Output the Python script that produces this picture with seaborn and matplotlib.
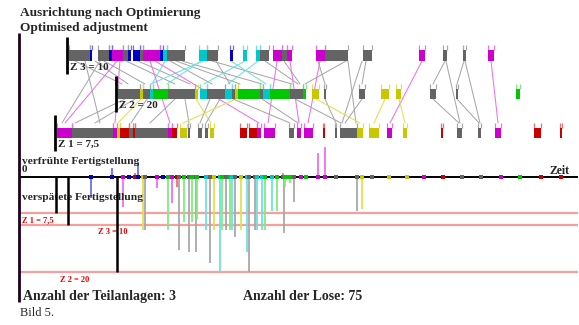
import matplotlib
matplotlib.use("Agg")
import matplotlib.pyplot as plt
import seaborn as sns
import pandas as pd

# ---- lot colours: solid for bars / markers, pale for links and deviations
SOLID = {"k": "#646464", "m": "#cc00cc", "b": "#0000c8", "c": "#00c8c8",
         "g": "#00c800", "y": "#c8c800", "r": "#c80000"}
PALE = {"k": "#a8a8a8", "m": "#ee70ee", "b": "#7070e8", "c": "#70e0e0",
        "g": "#80ec80", "y": "#e0e050", "r": "#ee7070"}

# ---- schedule on the three sub-plants: (start, end, lot colour)
Z3_SEGMENTS = [(69, 90, "k"), (90, 92, "b"), (98, 109, "k"), (109, 112, "b"),
               (112, 123, "m"), (123, 128, "k"), (128, 131, "b"), (133, 140, "b"),
               (140, 143, "k"), (143, 160, "m"), (160, 163, "b"), (163, 167, "c"),
               (167, 185, "k"), (199, 207, "c"), (207, 218, "k"), (230, 233, "b"),
               (243, 247, "c"), (256, 260, "c"), (260, 269, "k"), (273, 282, "m"),
               (282, 287, "k"), (287, 292, "m"), (316, 325, "m"), (325, 348, "k"),
               (363, 372, "k"), (419, 425, "m"), (443, 447, "k"), (463, 466, "k"),
               (488, 494, "m")]
Z2_SEGMENTS = [(118, 140, "k"), (140, 143, "y"), (143, 150, "k"), (150, 153, "c"),
               (153, 168, "g"), (168, 195, "k"), (195, 198, "y"), (200, 207, "c"),
               (207, 225, "k"), (225, 232, "c"), (232, 235, "k"), (235, 238, "y"),
               (238, 260, "g"), (260, 263, "k"), (263, 270, "c"), (270, 290, "g"),
               (290, 303, "k"), (303, 306, "g"), (312, 319, "y"), (324, 326, "k"),
               (359, 365, "k"), (381, 389, "y"), (396, 401, "y"), (430, 436, "k"),
               (456, 458, "k"), (516, 520, "g")]
Z1_SEGMENTS = [(57, 72, "m"), (72, 113, "k"), (113, 117, "m"), (117, 120, "y"),
               (120, 129, "r"), (129, 133, "k"), (133, 135, "r"), (135, 168, "k"),
               (168, 172, "m"), (172, 177, "r"), (180, 187, "y"), (188, 190, "k"),
               (198, 202, "k"), (205, 208, "k"), (210, 214, "y"), (240, 247, "r"),
               (249, 257, "r"), (257, 261, "m"), (264, 275, "m"), (289, 294, "k"),
               (297, 301, "m"), (304, 313, "m"), (323, 324.5, "r"), (335, 336.5, "k"),
               (340, 357, "k"), (357, 363, "y"), (369, 379, "y"), (387, 392, "m"),
               (403, 407, "y"), (441, 443, "r"), (457, 462, "k"), (478, 481, "k"),
               (495, 501, "m"), (534, 541, "r"), (560, 562, "r")]

# ---- routing of lots between sub-plants: (from plant, x, to plant, x, colour)
LINKS = [(3, 75, 2, 122, "k"), (3, 95, 2, 128, "k"), (3, 104, 2, 145, "k"),
         (3, 126, 2, 175, "k"), (3, 138, 2, 190, "k"), (3, 170, 2, 212, "k"),
         (3, 176, 2, 240, "k"), (3, 182, 2, 262, "k"), (3, 212, 2, 292, "k"),
         (3, 216, 2, 230, "k"), (3, 265, 2, 298, "k"), (3, 284, 2, 300, "k"),
         (3, 346, 2, 305, "k"), (3, 318, 2, 325, "k"), (3, 366, 2, 362, "k"),
         (3, 445, 2, 433, "k"), (3, 464, 2, 457, "k"),
         (3, 165, 2, 152, "c"), (3, 203, 2, 151, "c"), (3, 245, 2, 204, "c"),
         (3, 258, 2, 228, "c"), (3, 231, 2, 266, "c"), (3, 201, 2, 167, "c"),
         (3, 117, 1, 65, "m"), (3, 120, 1, 115, "m"), (3, 150, 1, 170, "m"),
         (3, 155, 1, 259, "m"), (3, 277, 1, 268, "m"), (3, 290, 1, 299, "m"),
         (3, 320, 1, 308, "m"), (3, 422, 1, 390, "m"), (3, 491, 1, 498, "m"),
         (3, 85, 1, 100, "k"), (3, 100, 1, 62, "k"), (3, 362, 1, 342, "k"),
         (3, 348, 1, 356, "k"), (3, 446, 1, 460, "k"), (3, 465, 1, 480, "k"),
         (2, 125, 1, 75, "k"), (2, 135, 1, 95, "k"), (2, 141, 1, 118, "y"),
         (2, 147, 1, 131, "k"), (2, 175, 1, 150, "k"), (2, 185, 1, 189, "k"),
         (2, 196, 1, 211, "y"), (2, 210, 1, 200, "k"), (2, 220, 1, 206, "k"),
         (2, 236, 1, 183, "y"), (2, 233, 1, 290, "k"), (2, 262, 1, 298, "k"),
         (2, 295, 1, 341, "k"), (2, 325, 1, 336, "k"), (2, 316, 1, 360, "y"),
         (2, 362, 1, 345, "k"), (2, 385, 1, 374, "y"), (2, 399, 1, 405, "y"),
         (2, 433, 1, 459, "k"), (2, 457, 1, 479, "k")]

# ---- completion of each lot: time, deviation (+ late, - early), colour
DONE_TIME = [91, 112, 123, 129, 135, 138, 143, 145, 157, 163, 168, 172, 177, 179,
             184, 189, 192, 196, 197, 206, 210, 214, 220, 222, 226, 230, 232, 235,
             241, 247, 249, 255, 257, 262, 265, 272, 277, 283, 284, 285, 286, 290,
             294, 301, 306, 318, 325, 336, 357, 362, 372, 389, 407, 424, 443, 462,
             481, 501, 520, 541, 561]
DEVIATION = [21, -9, 30, 0, -4, -15, 53, 53, 11, 0, 53, 26, 10, 73,
             45, 75, 45, 75, 42, 53, 86, 53, 95, 53, 53, 53, 53, 60,
             53, 75, 95, 53, 53, 53, 53, 34, 34, -4, 56, 10, 0, 6,
             25, 0, 0, -24, -30, 0, 34, 32, 0, 0, 0, 0, 0, 0,
             0, 0, 0, 0, 0]
DONE_COLOR = ["b", "b", "m", "b", "r", "b", "y", "k", "m", "b", "g", "m", "r", "k",
              "g", "k", "g", "k", "g", "c", "k", "y", "c", "g", "k", "g", "c", "k",
              "y", "c", "k", "k", "c", "c", "g", "c", "g", "m", "k", "g", "g", "g",
              "k", "m", "g", "m", "m", "k", "k", "y", "k", "y", "y", "m", "r", "k",
              "k", "m", "g", "r", "r"]

# ---- tolerances of the sub-plants and where each plant begins
PLANTS = [1, 2, 3]
PLANT_LABEL = {1: "Z 1 = 7,5", 2: "Z 2 = 20", 3: "Z 3 = 10"}
TOLERANCE = {1: 7.5, 2: 20.0, 3: 10.0}
PLANT_START = {1: 55, 2: 116, 3: 67}
N_PLANTS = 3
N_LOTS = 75

sns.set_theme(style="white")
plt.rcParams["font.family"] = ["Liberation Serif", "DejaVu Serif"]

fig = plt.figure(figsize=(5.79, 3.25), dpi=100)
ax = fig.add_axes([0, 0, 1, 1])

# bar rows (top, bottom) in drawing units
ROW = {3: (50, 61), 2: (89, 99), 1: (128, 138)}
TICK = 5
segments = {3: Z3_SEGMENTS, 2: Z2_SEGMENTS, 1: Z1_SEGMENTS}

# links between plants, drawn beneath the bars
for p0, x0, p1, x1, c in LINKS:
    ax.plot([x0, x1], [ROW[p0][1], ROW[p1][0] - TICK], color=PALE[c], lw=0.75, zorder=1)

for p in PLANTS:
    top, bot = ROW[p]
    df = pd.DataFrame(segments[p], columns=["start", "end", "lot"])
    ax.barh([(top + bot) / 2] * len(df), df["end"] - df["start"], left=df["start"],
            height=bot - top, color=[SOLID[c] for c in df["lot"]], linewidth=0, zorder=3)
    ax.vlines(df["start"] + 0.4, top - TICK, top, colors=[PALE[c] for c in df["lot"]], lw=0.9, zorder=2)
    ax.vlines(df["end"] - 0.4, top - TICK, top, colors=[PALE[c] for c in df["lot"]], lw=0.9, zorder=2)
    ax.vlines(PLANT_START[p], top - 13, bot + 13, colors="black", lw=2.0, zorder=4)
    ax.text(PLANT_START[p] + 3, bot + 6.5, PLANT_LABEL[p], fontsize=8, fontweight="bold",
            va="center", ha="left", zorder=5)

# left frame line
ax.vlines(18.5, 33, 302, colors="#200020", lw=2.0)

# titles
ax.text(20, 13, "Ausrichtung nach Optimierung", fontsize=9.6, fontweight="bold", va="center")
ax.text(20, 28, "Optimised adjustment", fontsize=9.6, fontweight="bold", va="center")

# ---- completion deviations around the time axis
AXIS_Y = 177
PX_PER_UNIT = 4.75
ax.hlines(AXIS_Y, 20, 578, colors="black", lw=1.4, zorder=4)
ax.text(22, 170, "0", fontsize=8, fontweight="bold", va="center")
ax.text(550, 171.5, "Zeit", fontsize=8.5, fontweight="bold", va="center")
ax.text(22, 161, "verfrühte Fertigstellung", fontsize=8.2, fontweight="bold", va="center")
ax.text(22, 198, "verspätete Fertigstellung", fontsize=8.2, fontweight="bold", va="center")

for p in PLANTS:
    y_lim = AXIS_Y + TOLERANCE[p] * PX_PER_UNIT
    ax.hlines(y_lim, 20, 578, colors="#f4a0a0", lw=1.6, zorder=1)
    ax.vlines(PLANT_START[p] + 1, AXIS_Y, y_lim, colors="black", lw=1.8, zorder=4)

ax.text(22, 220.5, PLANT_LABEL[1], fontsize=6, fontweight="bold", color="#ee0000", va="center")
ax.text(98, 232.5, PLANT_LABEL[3], fontsize=6, fontweight="bold", color="#ee0000", va="center")
ax.text(60, 279.5, PLANT_LABEL[2], fontsize=6, fontweight="bold", color="#ee0000", va="center")

done = pd.DataFrame({"t": DONE_TIME, "dev": DEVIATION, "lot": DONE_COLOR})
moved = done[done["dev"] != 0]
ax.vlines(moved["t"], AXIS_Y, AXIS_Y + moved["dev"], colors=[PALE[c] for c in moved["lot"]],
          lw=1.3, zorder=2)
done["y"] = AXIS_Y
sns.scatterplot(data=done, x="t", y="y", hue="lot", palette=SOLID, marker="s", s=7,
                linewidth=0, legend=False, ax=ax, zorder=5)

ax.text(23, 296.5, f"Anzahl der Teilanlagen: {N_PLANTS}", fontsize=10, fontweight="bold", va="center")
ax.text(243, 296.5, f"Anzahl der Lose: {N_LOTS}", fontsize=10, fontweight="bold", va="center")
ax.text(20, 313, "Bild 5.", fontsize=9, va="center")

ax.set_xlim(0, 579)
ax.set_ylim(325, 0)
ax.axis("off")

fig.savefig("out.png", dpi=100, facecolor="white")
